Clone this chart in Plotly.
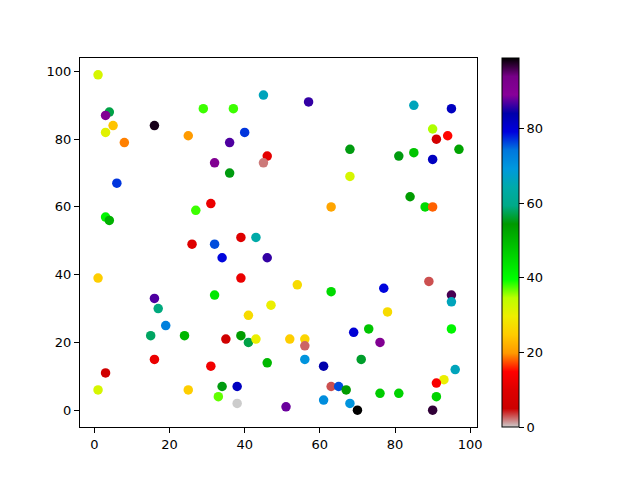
import plotly.graph_objects as go

x = [1, 4, 3, 5, 3, 8, 16, 25, 29, 37, 45, 40, 36, 46, 45, 32, 36, 6, 3, 4,
     27, 31, 26, 32, 39, 43, 34, 46, 1, 39, 32, 16, 17, 47, 41, 19, 15, 24, 39, 35,
     41, 43, 16, 31, 46, 3, 1, 25, 34, 38, 33, 38,
     57, 85, 95, 90, 94, 91, 68, 97, 81, 85, 90, 68, 63, 84, 88, 90,
     54, 63, 77, 89, 95, 95, 78, 69, 73, 76, 95, 52, 56, 56, 56, 61, 71, 96,
     93, 91, 63, 65, 67, 76, 81, 91, 51, 61, 68, 70, 90]
y = [99, 88, 87, 84, 82, 79, 84, 81, 89, 89, 93, 82, 79, 75, 73, 73, 70, 67, 57, 56,
     59, 61, 49, 49, 51, 51, 45, 45, 39, 39, 34, 33, 30, 31, 28, 25, 22, 22, 22, 21,
     20, 21, 15, 13, 14, 11, 6, 6, 7, 7, 4, 2,
     91, 90, 89, 83, 81, 80, 77, 77, 75, 76, 74, 69, 60, 63, 60, 60,
     37, 35, 36, 38, 34, 32, 29, 23, 24, 20, 24, 21, 21, 19, 15, 13, 15, 12,
     9, 8, 7, 7, 6, 5, 5, 4, 1, 3, 2, 0, 0]
c = [32, 57, 91, 24, 31, 19, 98, 20, 38, 38, 66, 77, 87, 11, 2, 91, 55, 77, 41, 51,
     38, 12, 10, 76, 10, 64, 79, 86, 25, 12, 43, 87, 59, 30, 27, 73, 58, 50, 54, 6,
     57, 30, 12, 13, 50, 6, 32, 25, 55, 82, 37, 0,
     86, 66, 82, 35, 15, 7, 55, 53, 55, 48, 82, 32, 21, 54, 45, 18,
     27, 45, 79, 3, 96, 66, 27, 80, 48, 91, 41, 25, 26, 2.5, 70, 84, 56, 66,
     30, 14, 3, 76, 54, 47, 46, 46, 88, 71, 70, 99, 97]

cbar_ticks = [0, 20, 40, 60, 80]

# nipy_spectral colormap (matplotlib), reversed
_pos = [i * 0.05 for i in range(21)]
_r = [0, .4667, .5333, 0, 0, 0, 0, 0, 0, 0, 0, 0, 0, .7333, .9333, 1, 1, 1, .8667, .8, .8]
_g = [0, 0, 0, 0, 0, .4667, .6, .6667, .6667, .6, .7333, .8667, 1, 1, .9333, .8, .6, 0, 0, 0, .8]
_b = [0, .5333, .6, .6667, .8667, .8667, .8667, .6667, .5333, 0, 0, 0, 0, 0, 0, 0, 0, 0, 0, 0, .8]
colorscale = []
for i in range(21):
    j = 20 - i
    colorscale.append([round(_pos[i], 4),
                       "rgb(%d,%d,%d)" % (round(_r[j] * 255), round(_g[j] * 255), round(_b[j] * 255))])

fig = go.Figure(go.Scatter(
    x=x, y=y, mode="markers",
    marker=dict(
        size=9.5, color=c, colorscale=colorscale, cmin=0, cmax=99,
        line=dict(width=0),
        colorbar=dict(
            x=1.063, xanchor="left", y=0.5, yanchor="middle",
            len=1, lenmode="fraction", thickness=17, xpad=0, ypad=0,
            outlinewidth=1, outlinecolor="black",
            tickvals=cbar_ticks, ticks="outside", ticklen=5, tickcolor="black",
            tickfont=dict(size=13, color="black"),
        ),
    ),
    showlegend=False,
))

axis_common = dict(
    showgrid=False, zeroline=False, showline=True, linecolor="black", linewidth=1,
    mirror=True, ticks="outside", ticklen=5, tickcolor="black",
    tickfont=dict(size=13, color="black"),
)
fig.update_xaxes(range=[-3.8, 101.8], tickvals=[0, 20, 40, 60, 80, 100], **axis_common)
fig.update_yaxes(range=[-4.95, 103.95], tickvals=[0, 20, 40, 60, 80, 100], **axis_common)

fig.update_layout(
    width=640, height=480,
    margin=dict(l=72, r=171, t=50, b=61),
    plot_bgcolor="white", paper_bgcolor="white",
    font=dict(family="DejaVu Sans", size=13, color="black"),
)

fig.write_html("out.html")
